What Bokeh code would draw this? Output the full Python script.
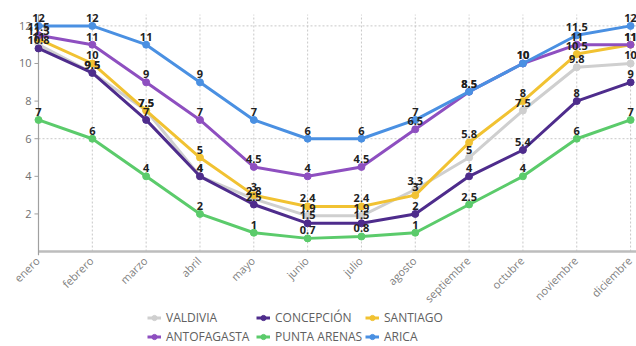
import math
from bokeh.plotting import figure
from bokeh.models import ColumnDataSource, LabelSet, Legend, LegendItem, Range1d
from bokeh.core.properties import value
from bokeh.embed import file_html
from bokeh.resources import INLINE

# Monthly values per city
months = ["enero", "febrero", "marzo", "abril", "mayo", "junio", "julio",
          "agosto", "septiembre", "octubre", "noviembre", "diciembre"]

valdivia = [11, 9.5, 7.5, 4, 2.8, 1.9, 1.9, 3.3, 5, 7.5, 9.8, 10]
concepcion = [10.8, 9.5, 7, 4, 2.5, 1.5, 1.5, 2, 4, 5.4, 8, 9]
santiago = [11.3, 10, 7.5, 5, 3, 2.4, 2.4, 3, 5.8, 8, 10.5, 11]
antofagasta = [11.5, 11, 9, 7, 4.5, 4, 4.5, 6.5, 8.5, 10, 11, 11]
punta_arenas = [7, 6, 4, 2, 1, 0.7, 0.8, 1, 2.5, 4, 6, 7]
arica = [12, 12, 11, 9, 7, 6, 6, 7, 8.5, 10, 11.5, 12]

y_ticks = [2, 4, 6, 8, 10, 12]

series = [
    ("VALDIVIA", valdivia, "#cfcfcf"),
    ("CONCEPCIÓN", concepcion, "#4e2c8c"),
    ("SANTIAGO", santiago, "#f1c232"),
    ("ANTOFAGASTA", antofagasta, "#8e4fc0"),
    ("PUNTA ARENAS", punta_arenas, "#5bcb6b"),
    ("ARICA", arica, "#4a90e2"),
]


def fmt(v):
    return f"{v:g}"


# The frame fills the whole canvas; axes, month names and the legend are
# drawn inside it so that nothing gets clipped at the frame edge.
X_LEFT, X_RIGHT = -0.706, 11.11
Y_BOTTOM, Y_TOP = -5.05, 13.35
GUIDE_TOP = 12.6   # upper end of the axis line and vertical guides
TICK = 0.075       # tick length in x units (about 4 px)

p = figure(width=636, height=346, output_backend="svg", toolbar_location=None,
           x_range=Range1d(X_LEFT, X_RIGHT), y_range=Range1d(Y_BOTTOM, Y_TOP),
           min_border=0, background_fill_color="white",
           border_fill_color="white", outline_line_color=None)
p.xaxis.visible = False
p.yaxis.visible = False
p.xgrid.visible = False
p.ygrid.visible = False

xs = list(range(len(months)))

# dotted guides: vertical at each month, horizontal at 6 and 12
p.segment(x0=xs[1:], y0=[0] * 11, x1=xs[1:], y1=[GUIDE_TOP] * 11,
          line_color="#c8c8c8", line_dash="2 2", line_width=1)
p.segment(x0=[0, 0], y0=[6, 12], x1=[X_RIGHT, X_RIGHT], y1=[6, 12],
          line_color="#c8c8c8", line_dash="2 2", line_width=1)

# category axis (zero line) and value axis with its ticks
p.segment(x0=[0], y0=[0], x1=[X_RIGHT], y1=[0], line_color="#bdbdbd", line_width=2.5)
p.segment(x0=[0], y0=[-0.2], x1=[0], y1=[GUIDE_TOP], line_color="#a0a0a0", line_width=1.2)
p.segment(x0=[-TICK] * len(y_ticks), y0=y_ticks, x1=[0] * len(y_ticks), y1=y_ticks,
          line_color="#a0a0a0", line_width=1)
ysrc = ColumnDataSource(dict(x=[0] * len(y_ticks), y=y_ticks, t=[str(t) for t in y_ticks]))
p.add_layout(LabelSet(x="x", y="y", text="t", source=ysrc, x_offset=-7,
                      text_align="right", text_baseline="middle",
                      text_font_size="11px", text_color="#707070",
                      text_font=value("Open Sans")))

legend_items = []
for name, vals, color in series:
    src = ColumnDataSource(dict(x=xs, y=vals))
    lr = p.line("x", "y", source=src, line_color=color, line_width=3)
    sr = p.scatter("x", "y", source=src, size=7, fill_color=color, line_color=color)
    legend_items.append(LegendItem(label=name, renderers=[lr, sr]))

for name, vals, color in series:
    src = ColumnDataSource(dict(x=xs, y=vals, t=[fmt(v) for v in vals]))
    p.add_layout(LabelSet(x="x", y="y", text="t", source=src, y_offset=4,
                          text_align="center", text_baseline="bottom",
                          text_font_size="11px", text_font_style="bold",
                          text_color="#222222", text_font=value("Open Sans")))

# month names, slanted under the zero line
msrc = ColumnDataSource(dict(x=xs, y=[0] * len(xs), t=months))
p.add_layout(LabelSet(x="x", y="y", text="t", source=msrc, angle=math.pi / 4,
                      x_offset=-1, y_offset=-7, text_align="right",
                      text_baseline="middle", text_font_size="11px",
                      text_color="#808080", text_font=value("Open Sans")))

legend = Legend(items=legend_items, location=(147, 1), orientation="horizontal",
                ncols=3, padding=0, margin=0, spacing=2, label_standoff=5,
                glyph_width=14, glyph_height=13, label_height=13, label_width=88,
                label_text_font_size="12px", label_text_color="#606060",
                label_text_font="Open Sans", background_fill_alpha=0,
                border_line_color=None)
p.add_layout(legend, "center")

open("out.html", "w").write(file_html(p, INLINE))
